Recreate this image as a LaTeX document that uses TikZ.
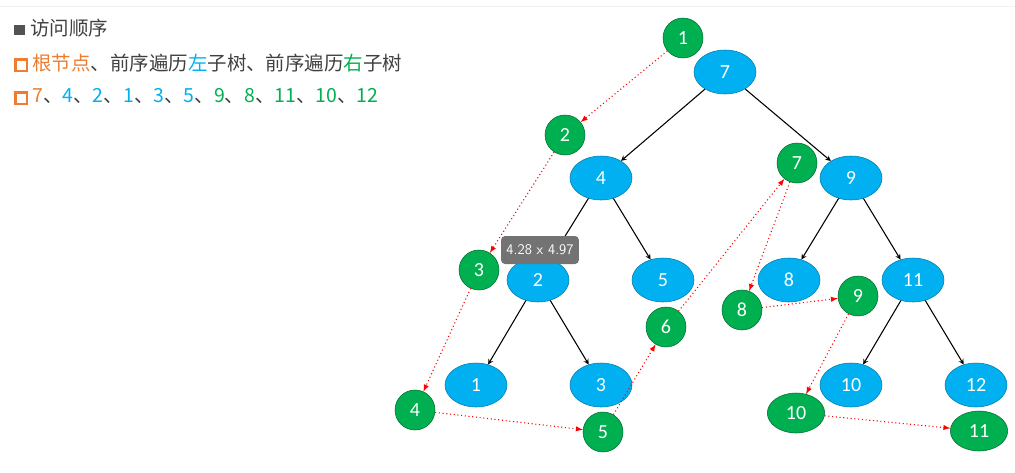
\documentclass[tikz,border=0pt]{standalone}
\usepackage{fontspec}
\setmainfont{Carlito}
\newfontfamily\cjk{Noto Sans CJK SC}
\usetikzlibrary{shapes, arrows, positioning}

\definecolor{treeblue}{RGB}{0,176,240}
\definecolor{visitgreen}{RGB}{0,176,80}
\definecolor{txtorange}{RGB}{237,125,49}
\definecolor{txtgrey}{RGB}{64,64,64}
\newcommand{\hollowbox}{\textcolor{txtorange}{\setlength\fboxrule{1.8pt}\setlength\fboxsep{0pt}\fbox{\rule{0pt}{7pt}\hspace{7pt}}}\hspace{3pt}}

\begin{document}
\begin{tikzpicture}[x=0.75pt,y=-0.75pt]
\tikzstyle{tree} = [ellipse, minimum width=46.5pt, minimum height=33pt, fill=treeblue, draw=treeblue!70!black, text=white, font=\fontsize{15}{15}\selectfont, inner sep=0pt]
\tikzstyle{visit} = [circle, minimum size=30pt, fill=visitgreen, draw=visitgreen!60!black, text=white, font=\fontsize{15}{15}\selectfont, inner sep=0pt]
\tikzstyle{wide} = [ellipse, minimum width=43pt, minimum height=30pt]
\tikzstyle{edge} = [thick, ->, >=stealth]
\tikzstyle{order} = [red, dotted, thick, ->, >=latex]
\tikzstyle{line} = [anchor=west, text=txtgrey, font=\cjk\fontsize{14.6}{16}\selectfont, inner sep=0pt]

\useasboundingbox (0,0) rectangle (1015,472);
\draw[black!5] (0,6) -- (1015,6);

% header text
\node (title) [line] at (14,28) {\textcolor{txtgrey!90}{\rule{8pt}{8pt}}\hspace{4pt}访问顺序};
\node (rule) [line] at (14,63) {\hollowbox\textcolor{txtorange}{根节点}、前序遍历\textcolor{treeblue}{左}子树、前序遍历\textcolor{visitgreen}{右}子树};
\node (seq) [line] at (14,97) {\hollowbox\textcolor{txtorange}{7}、\textcolor{treeblue}{4}、\textcolor{treeblue}{2}、\textcolor{treeblue}{1}、\textcolor{treeblue}{3}、\textcolor{treeblue}{5}、\textcolor{visitgreen}{9}、\textcolor{visitgreen}{8}、\textcolor{visitgreen}{11}、\textcolor{visitgreen}{10}、\textcolor{visitgreen}{12}};

% tree
\node (t7) [tree] at (725,72) {7};
\node (t4) [tree] at (601,178) {4};
\node (t9) [tree] at (851,178) {9};
\node (t2) [tree] at (538,280) {2};
\node (t5) [tree] at (663,280) {5};
\node (t8) [tree] at (789,280) {8};
\node (t11) [tree] at (913,280) {11};
\node (t1) [tree] at (476,385) {1};
\node (t3) [tree] at (601,385) {3};
\node (t10) [tree] at (851,385) {10};
\node (t12) [tree] at (976,385) {12};

\draw [edge] (t7) -- (t4);
\draw [edge] (t7) -- (t9);
\draw [edge] (t4) -- (t2);
\draw [edge] (t4) -- (t5);
\draw [edge] (t2) -- (t1);
\draw [edge] (t2) -- (t3);
\draw [edge] (t9) -- (t8);
\draw [edge] (t9) -- (t11);
\draw [edge] (t11) -- (t10);
\draw [edge] (t11) -- (t12);

% visiting order
\node (v1) [visit] at (683,38) {1};
\node (v2) [visit] at (565,135) {2};
\node (v3) [visit] at (479,270) {3};
\node (v4) [visit] at (415,410) {4};
\node (v5) [visit] at (603,432) {5};
\node (v6) [visit] at (666,327) {6};
\node (v7) [visit] at (797,163) {7};
\node (v8) [visit] at (742,310) {8};
\node (v9) [visit] at (858,296) {9};
\node (v10) [visit, wide] at (796,413) {10};
\node (v11) [visit, wide] at (979,431) {11};

\draw [order] (v1) -- (v2);
\draw [order] (v2) -- (v3);
\draw [order] (v3) -- (v4);
\draw [order] (v4) -- (v5);
\draw [order] (v5) -- (v6);
\draw [order] (v6) -- (v7);
\draw [order] (v7) -- (v8);
\draw [order] (v8) -- (v9);
\draw [order] (v9) -- (v10);
\draw [order] (v10) -- (v11);

% size tooltip
\node (tip) [fill=black!55, text=white, rounded corners=3pt, font=\sffamily\fontsize{11}{11}\selectfont, minimum height=21pt, inner xsep=4pt] at (540,250) {4.28 x 4.97};
\end{tikzpicture}
\end{document}
